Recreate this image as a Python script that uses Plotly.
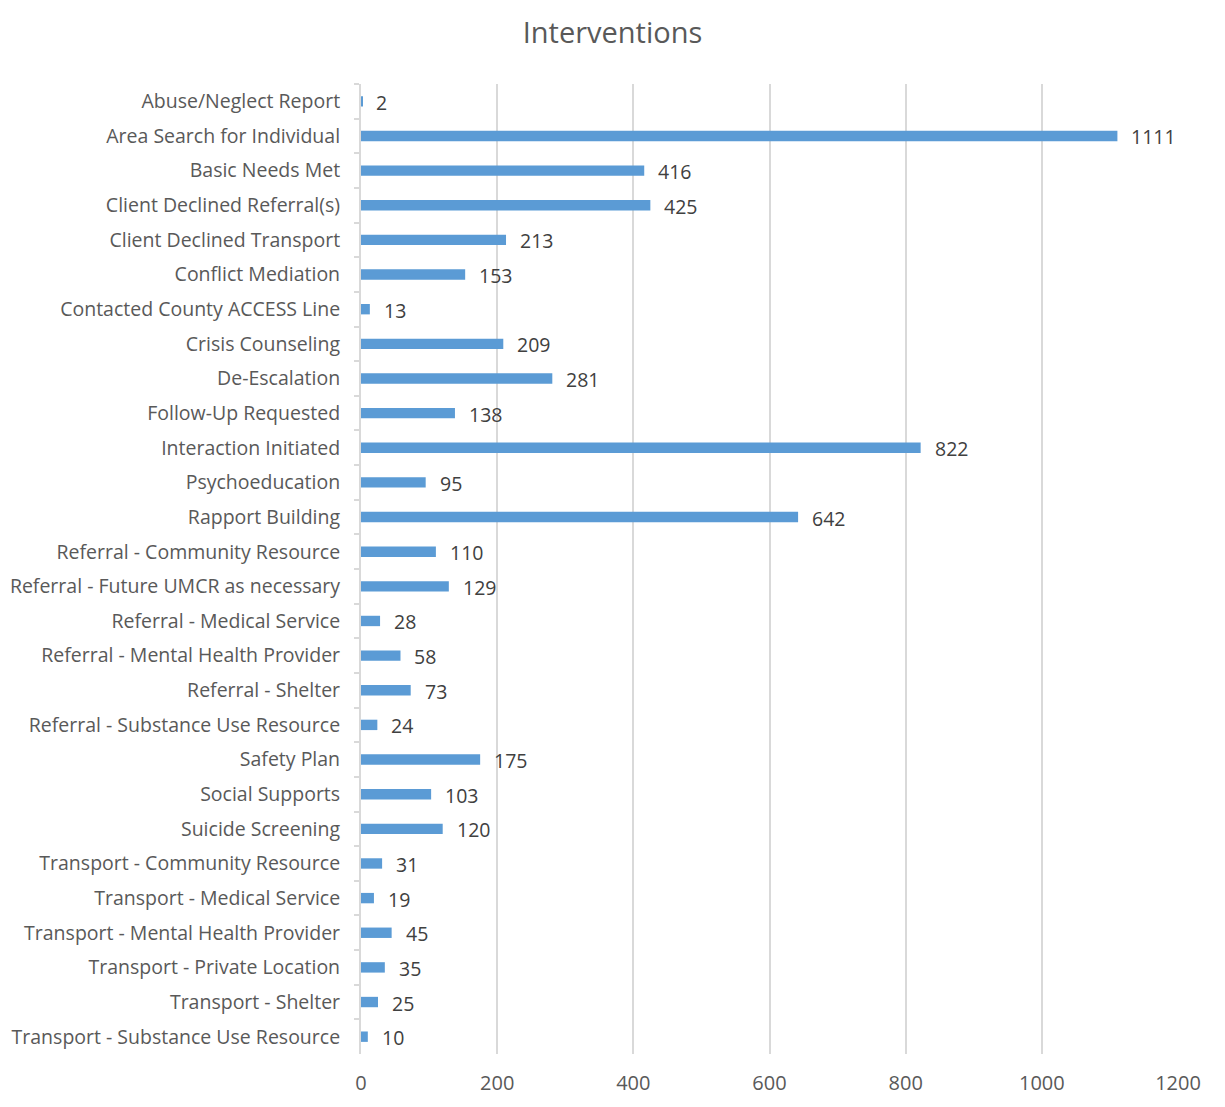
import plotly.graph_objects as go

# Intervention categories (top to bottom) and their counts
categories = [
    "Abuse/Neglect Report",
    "Area Search for Individual",
    "Basic Needs Met",
    "Client Declined Referral(s)",
    "Client Declined Transport",
    "Conflict Mediation",
    "Contacted County ACCESS Line",
    "Crisis Counseling",
    "De-Escalation",
    "Follow-Up Requested",
    "Interaction Initiated",
    "Psychoeducation",
    "Rapport Building",
    "Referral - Community Resource",
    "Referral - Future UMCR as necessary",
    "Referral - Medical Service",
    "Referral - Mental Health Provider",
    "Referral - Shelter",
    "Referral - Substance Use Resource",
    "Safety Plan",
    "Social Supports",
    "Suicide Screening",
    "Transport - Community Resource",
    "Transport - Medical Service",
    "Transport - Mental Health Provider",
    "Transport - Private Location",
    "Transport - Shelter",
    "Transport - Substance Use Resource",
]
counts = [2, 1111, 416, 425, 213, 153, 13, 209, 281, 138, 822, 95, 642, 110,
          129, 28, 58, 73, 24, 175, 103, 120, 31, 19, 45, 35, 25, 10]

x_ticks = [0, 200, 400, 600, 800, 1000, 1200]

FONT = "Open Sans, Segoe UI, sans-serif"
TEXT = "#595959"
BAR = "#5B9BD5"
GRID = "#D9D9D9"

fig = go.Figure()
fig.add_trace(go.Bar(
    x=counts,
    y=categories,
    orientation="h",
    marker=dict(color=BAR, line=dict(width=0)),
    hoverinfo="x+y",
))

# value labels just past the end of each bar
for cat, val in zip(categories, counts):
    fig.add_annotation(
        x=val, y=cat, text=str(val), showarrow=False,
        xanchor="left", yanchor="middle", xshift=12, yshift=-1,
        font=dict(family=FONT, size=19.5, color="#404040"),
    )

fig.update_layout(
    width=1225,
    height=1107,
    paper_bgcolor="white",
    plot_bgcolor="white",
    margin=dict(l=361, r=47, t=84, b=53),
    bargap=0.7,
    showlegend=False,
    title=dict(
        text="Interventions",
        x=0.5, xanchor="center",
        y=1 - 33 / 1107, yanchor="middle",
        font=dict(family=FONT, size=29, color=TEXT),
    ),
    font=dict(family=FONT, color=TEXT),
)

fig.update_xaxes(
    range=[0, 1200],
    tickvals=x_ticks,
    ticktext=[str(t) for t in x_ticks],
    showgrid=True,
    gridcolor=GRID,
    gridwidth=2,
    zeroline=False,
    showline=False,
    ticks="",
    tickfont=dict(family=FONT, size=20, color=TEXT),
    ticklabelstandoff=15,
    automargin=False,
)

fig.update_yaxes(
    categoryorder="array",
    categoryarray=categories,
    autorange="reversed",
    showgrid=False,
    showline=True,
    linecolor=GRID,
    linewidth=2,
    ticks="outside",
    tickson="boundaries",
    ticklen=5,
    tickcolor=GRID,
    tickwidth=2,
    tickfont=dict(family=FONT, size=19.5, color=TEXT),
    ticklabelstandoff=15,
    automargin=False,
)

fig.write_html("out.html")
